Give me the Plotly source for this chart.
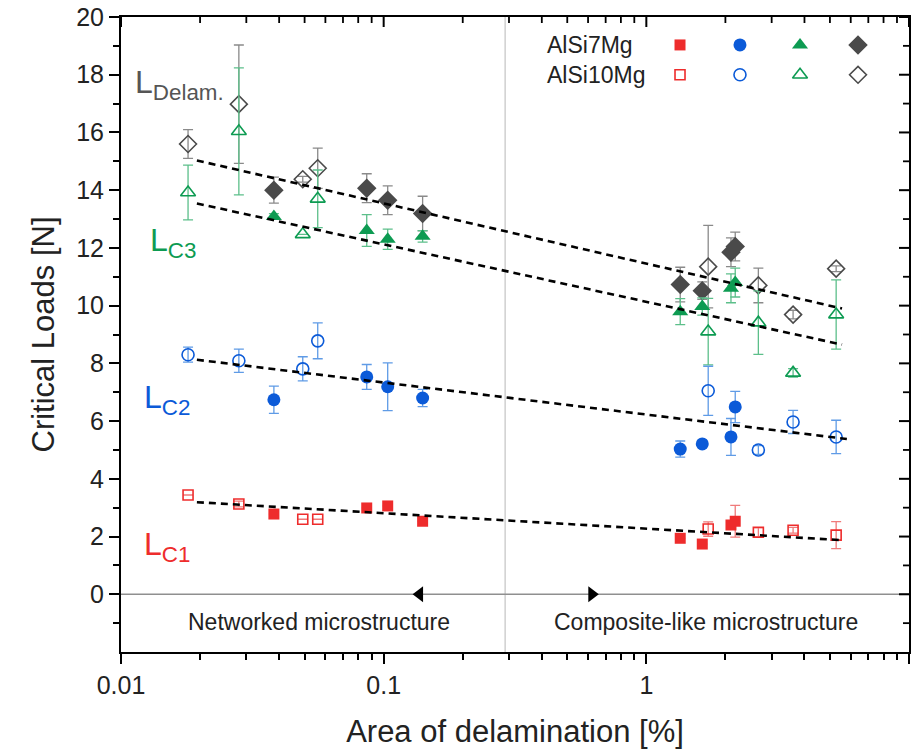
import plotly.graph_objects as go

# ---------------- data ----------------
x_7 = [0.0382, 0.0862, 0.1036, 0.1407, 1.346, 1.633, 2.10, 2.18]      # AlSi7Mg
x_10 = [0.018, 0.0281, 0.0492, 0.0561, 1.72, 2.67, 3.62, 5.28]       # AlSi10Mg

c1_7 = [2.78, 2.99, 3.06, 2.53, 1.94, 1.74, 2.40, 2.53]
c1_7_err = [0, 0, 0, 0, 0, 0, 0.1, 0.55]
c1_10 = [3.44, 3.13, 2.60, 2.60, 2.26, 2.15, 2.22, 2.05]
c1_10_err = [0, 0.1, 0, 0, 0.25, 0.15, 0.1, 0.47]

c2_7 = [6.74, 7.53, 7.19, 6.80, 5.03, 5.21, 5.45, 6.49]
c2_7_err = [0.47, 0.43, 0.83, 0.30, 0.28, 0.1, 0.64, 0.54]
c2_10 = [8.30, 8.09, 7.81, 8.78, 7.05, 5.00, 5.97, 5.45]
c2_10_err = [0.26, 0.40, 0.42, 0.62, 0.85, 0.15, 0.40, 0.58]

c3_7 = [13.09, 12.60, 12.30, 12.40, 9.79, 9.97, 10.60, 10.80]
c3_7_err = [0.1, 0.55, 0.35, 0.2, 0.45, 0.3, 0.5, 0.5]
c3_10 = [13.92, 16.04, 12.47, 13.70, 9.10, 9.41, 7.67, 9.69]
c3_10_err = [0.95, 2.2, 0, 1.0, 1.15, 1.1, 0.15, 1.2]

dl_7 = [14.00, 14.07, 13.65, 13.19, 10.73, 10.52, 11.85, 12.05]
dl_7_err = [0.45, 0.5, 0.5, 0.6, 0.6, 0.3, 0.5, 0.5]
dl_10 = [15.60, 16.98, 14.38, 14.76, 11.35, 10.70, 9.69, 11.28]
dl_10_err = [0.5, 2.05, 0.1, 0.7, 1.43, 0.6, 0.15, 0.1]

# fitted trend lines (end points)
fit_x = [0.01945, 5.56]
fit_x_c2 = [0.01945, 5.8]
fit_dl = [15.03, 9.90]
fit_c3 = [13.54, 8.65]
fit_c2 = [8.125, 5.38]
fit_c1 = [3.19, 1.875]

boundary_x = 0.29
arrow_left_x = 0.137
arrow_right_x = 0.62

legend_rows = ["AlSi7Mg", "AlSi10Mg"]

x_major = [0.01, 0.1, 1, 10]
x_major_text = ["0.01", "0.1", "1", "10"]
x_minor = [m * d for d in (0.01, 0.1, 1) for m in range(2, 10)]
y_major = list(range(0, 21, 2))
y_minor = list(range(-1, 20, 2))

# ---------------- styles ----------------
RED, RED_E = "#ee2c2c", "#f07a7a"
BLUE, BLUE_E = "#0b5ad8", "#5f9be6"
GREEN, GREEN_E = "#0d9b52", "#5cbf8a"
GRAY, GRAY_E = "#4a4a4a", "#8a8a8a"
FONT = "Liberation Sans, Arial, sans-serif"

W, H = 922, 750
ML, MR, MT, MB = 121, 13, 17, 98
PW, PH = W - ML - MR, H - MT - MB
MAJ_LEN, MIN_LEN, MAJ_W, MIN_W = 10, 6, 2, 1.8
X_LOG_RANGE = [-2, 1]
Y_RANGE = [-2, 20]

fig = go.Figure()


def add_series(x, y, err, color, ecolor, symbol, size, lw=1.6):
    fig.add_trace(go.Scatter(
        x=x, y=y, mode="markers",
        marker=dict(symbol=symbol, size=size, color=color,
                    line=dict(width=lw, color=color)),
        error_y=dict(type="data", array=err, color=ecolor, thickness=1.3, width=5, visible=True),
        showlegend=False, hoverinfo="skip"))


add_series(x_10, dl_10, dl_10_err, GRAY, GRAY_E, "diamond-open", 13)
add_series(x_7, dl_7, dl_7_err, GRAY, GRAY_E, "diamond", 15, 0)
add_series(x_10, c3_10, c3_10_err, GREEN, GREEN_E, "triangle-up-open", 13)
add_series(x_7, c3_7, c3_7_err, GREEN, GREEN_E, "triangle-up", 14, 0)
add_series(x_10, c2_10, c2_10_err, BLUE, BLUE_E, "circle-open", 12)
add_series(x_7, c2_7, c2_7_err, BLUE, BLUE_E, "circle", 13, 0)
add_series(x_10, c1_10, c1_10_err, RED, RED_E, "square-open", 10)
add_series(x_7, c1_7, c1_7_err, RED, RED_E, "square", 11, 0)

for fx, fy in [(fit_x, fit_dl), (fit_x, fit_c3), (fit_x_c2, fit_c2), (fit_x, fit_c1)]:
    fig.add_trace(go.Scatter(x=fx, y=fy, mode="lines",
                             line=dict(color="black", width=2.6, dash="7px,5px"),
                             showlegend=False, hoverinfo="skip"))

# arrows on the zero line
fig.add_trace(go.Scatter(x=[arrow_left_x], y=[0], mode="markers",
                         marker=dict(symbol="triangle-left", size=14, color="black"),
                         showlegend=False, hoverinfo="skip"))
fig.add_trace(go.Scatter(x=[arrow_right_x], y=[0], mode="markers",
                         marker=dict(symbol="triangle-right", size=14, color="black"),
                         showlegend=False, hoverinfo="skip"))

# inward-pointing mirrored ticks on the top and right frame edges (drawn as line traces)
y_unit_per_px = (Y_RANGE[1] - Y_RANGE[0]) / PH
dec_per_px = (X_LOG_RANGE[1] - X_LOG_RANGE[0]) / PW
x_right = 10 ** X_LOG_RANGE[1]
for vals, ln, w in [(x_major, MAJ_LEN, MAJ_W), (x_minor, MIN_LEN, MIN_W)]:
    tx, ty = [], []
    for v in vals:
        tx += [v, v, None]
        ty += [Y_RANGE[1], Y_RANGE[1] - ln * y_unit_per_px, None]
    fig.add_trace(go.Scatter(x=tx, y=ty, mode="lines", line=dict(color="black", width=w),
                             showlegend=False, hoverinfo="skip", cliponaxis=False))
for vals, ln, w in [(y_major, MAJ_LEN, MAJ_W), (y_minor, MIN_LEN, MIN_W)]:
    tx, ty = [], []
    for v in vals:
        tx += [x_right, x_right / 10 ** (ln * dec_per_px), None]
        ty += [v, v, None]
    fig.add_trace(go.Scatter(x=tx, y=ty, mode="lines", line=dict(color="black", width=w),
                             showlegend=False, hoverinfo="skip", cliponaxis=False))

# legend markers on a hidden overlay axis
leg_cols = [0.7094, 0.7855, 0.8617, 0.9353]
leg_y = [0.956, 0.909]
filled = ["square", "circle", "triangle-up", "diamond"]
opened = ["square-open", "circle-open", "triangle-up-open", "diamond-open"]
cols = [RED, BLUE, GREEN, GRAY]
fsizes = [11, 13, 14, 15]
osizes = [10, 12, 13, 13]
for i in range(4):
    fig.add_trace(go.Scatter(x=[leg_cols[i]], y=[leg_y[0]], mode="markers", xaxis="x3", yaxis="y3",
                             marker=dict(symbol=filled[i], size=fsizes[i], color=cols[i]),
                             showlegend=False, hoverinfo="skip"))
    fig.add_trace(go.Scatter(x=[leg_cols[i]], y=[leg_y[1]], mode="markers", xaxis="x3", yaxis="y3",
                             marker=dict(symbol=opened[i], size=osizes[i], color=cols[i],
                                         line=dict(width=1.6, color=cols[i])),
                             showlegend=False, hoverinfo="skip"))

annotations = []
for txt, yy in zip(legend_rows, leg_y):
    annotations.append(dict(x=0.538, y=yy, xref="paper", yref="paper", text=txt, showarrow=False,
                            xanchor="left", yanchor="middle", font=dict(size=23, color="#222", family=FONT)))

labels = [("L<sub>Delam.</sub>", "#555555", 0.0152, 0.893),
          ("L<sub>C3</sub>", GREEN, 0.034, 0.645),
          ("L<sub>C2</sub>", BLUE, 0.027, 0.398),
          ("L<sub>C1</sub>", RED, 0.027, 0.166)]
for txt, c, xx, yy in labels:
    annotations.append(dict(x=xx, y=yy, xref="paper", yref="paper", text=txt, showarrow=False,
                            xanchor="left", yanchor="middle", font=dict(size=32, color=c, family=FONT)))

annotations.append(dict(x=0.251, y=0.047, xref="paper", yref="paper", text="Networked microstructure",
                        xanchor="center", yanchor="middle",
                        showarrow=False, font=dict(size=23, color="#222", family=FONT)))
annotations.append(dict(x=0.742, y=0.047, xref="paper", yref="paper", text="Composite-like microstructure",
                        xanchor="center", yanchor="middle",
                        showarrow=False, font=dict(size=23, color="#222", family=FONT)))

shapes = [
    dict(type="line", xref="x", yref="paper", x0=boundary_x, x1=boundary_x, y0=0, y1=1,
         line=dict(color="#c4c4c4", width=1.2), layer="below"),
    dict(type="line", xref="paper", yref="y", x0=0, x1=1, y0=0, y1=0,
         line=dict(color="#8f8f8f", width=1.6), layer="below"),
]

tickfont = dict(size=25, color="#222", family=FONT)


def minor(vals):
    return dict(tickmode="array", tickvals=vals, ticks="outside", ticklen=MIN_LEN, tickwidth=MIN_W,
                tickcolor="black", showgrid=False)


fig.update_layout(
    width=W, height=H,
    margin=dict(l=ML, r=MR, t=MT, b=MB, autoexpand=False),
    paper_bgcolor="white", plot_bgcolor="white",
    font=dict(family=FONT),
    annotations=annotations, shapes=shapes,
    xaxis=dict(type="log", range=X_LOG_RANGE, tickmode="array", tickvals=x_major, ticktext=x_major_text,
               ticks="outside", ticklen=MAJ_LEN, tickwidth=MAJ_W, tickcolor="black", automargin=False,
               minor=minor(x_minor),
               showgrid=False, zeroline=False, showline=True, linecolor="black", linewidth=2, mirror=True,
               tickfont=tickfont,
               title=dict(text="Area of delamination [%]", font=dict(size=31, color="#222", family=FONT),
                          standoff=22)),
    yaxis=dict(range=Y_RANGE, tickmode="array", tickvals=y_major, automargin=False,
               ticks="outside", ticklen=MAJ_LEN, tickwidth=MAJ_W, tickcolor="black",
               minor=minor(y_minor),
               showgrid=False, zeroline=False, showline=True, linecolor="black", linewidth=2, mirror=True,
               tickfont=tickfont,
               title=dict(text="Critical Loads [N]", font=dict(size=31, color="#222", family=FONT),
                          standoff=12)),
    xaxis3=dict(range=[0, 1], overlaying="x", visible=False),
    yaxis3=dict(range=[0, 1], overlaying="y", visible=False),
)

fig.write_html("out.html")
